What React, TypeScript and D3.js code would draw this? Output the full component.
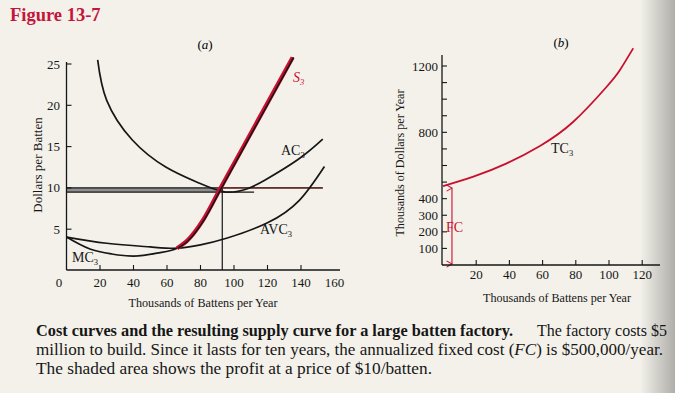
import React from "react";
import * as d3 from "d3";

// ---------- Data ----------
// Panel (a): dollars per batten vs thousands of battens per year
const acCurve: [number, number][] = [
  [18.6, 25.5], [24, 20.6], [39.3, 15.8], [59.5, 12.5], [79, 10.6],
  [95, 9.5], [108, 9.9], [118.6, 10.96], [138, 13.4], [153, 15.9],
];
const avcCurve: [number, number][] = [
  [0, 4.05], [24, 3.3], [50, 2.85], [66, 2.7], [80, 3.1], [95.5, 3.9],
  [119.7, 5.75], [139, 8.5], [154, 12.6],
];
const mcCurve: [number, number][] = [
  [0, 4.05], [14, 2.6], [27, 2.0], [40, 1.75], [54, 2.1], [66, 2.7],
  [72, 3.6], [81.5, 6.1], [92, 10], [101.8, 13.6], [135, 25.8],
];
const supplyStart = 66;
const price = 10;
const acMin = 9.5;
const qStar = 93;
const priceLineEnd = 153;
const acMinLineEnd = 112;
const xTicksA = [20, 40, 60, 80, 100, 120, 140];
const xLabelsA = [0, 20, 40, 60, 80, 100, 120, 140, 160];
const yTicksA = [5, 10, 15, 20, 25];

// Panel (b): thousands of dollars per year
const tcCurve: [number, number][] = [
  [0, 476], [18.3, 533], [38.4, 613], [58.4, 718], [78.5, 864],
  [98.6, 1075], [106.6, 1176], [114.6, 1307],
];
const fcQ = 5.4;
const fcValue = 476;
const xTicksB = [20, 40, 60, 80, 100, 120];
const yTicksB = [100, 200, 300, 400, 500, 600, 700, 800, 900, 1000, 1100, 1200];
const yLabelsB = [100, 200, 300, 400, 800, 1200];

const RED = "#c8102e";
const INK = "#161616";
const SERIF = "'Liberation Serif', 'DejaVu Serif', serif";

export default function App() {
  // Panel (a) scales
  const xa = d3.scaleLinear().domain([0, 160]).range([66.5, 334.5]);
  const ya = d3.scaleLinear().domain([0, 25]).range([270.5, 64]);
  // Panel (b) scales
  const xb = d3.scaleLinear().domain([0, 120]).range([443, 642.2]);
  const yb = d3.scaleLinear().domain([0, 1200]).range([265, 66]);

  const lineA = d3
    .line<[number, number]>()
    .x((d) => xa(d[0]))
    .y((d) => ya(d[1]))
    .curve(d3.curveNatural);
  const lineB = d3
    .line<[number, number]>()
    .x((d) => xb(d[0]))
    .y((d) => yb(d[1]))
    .curve(d3.curveNatural);
  const lineMC = d3
    .line<[number, number]>()
    .x((d) => xa(d[0]))
    .y((d) => ya(d[1]))
    .curve(d3.curveMonotoneX);

  const supply = mcCurve.filter((d) => d[0] >= supplyStart);

  const axisA0 = ya(0) - 0.5;
  const axisB0 = yb(0);

  return (
    <svg
      width={675}
      height={393}
      style={{ position: "fixed", left: 0, top: 0, display: "block" }}
      fontFamily={SERIF}
    >
      <defs>
        <linearGradient id="edge" x1="0" x2="1" y1="0" y2="0">
          <stop offset="0" stopColor="#000" stopOpacity={0} />
          <stop offset="1" stopColor="#000" stopOpacity={0.28} />
        </linearGradient>
        <marker id="arrUp" viewBox="0 0 10 10" refX="5" refY="1" markerWidth="7" markerHeight="7" orient="auto">
          <path d="M1,8 L5,1 L9,8" fill="none" stroke={RED} strokeWidth={1.3} />
        </marker>
      </defs>
      <rect x={0} y={0} width={675} height={393} fill="#f3f1ea" />
      <rect x={640} y={0} width={35} height={393} fill="url(#edge)" />

      {/* Title */}
      <text x={10} y={21} fill="#c4153c" fontSize={18.5} fontWeight="bold">
        Figure 13-7
      </text>

      {/* ---------- Panel (a) ---------- */}
      <text x={205} y={49} fontSize={13} textAnchor="middle">
        (<tspan fontStyle="italic">a</tspan>)
      </text>

      {/* shaded profit band */}
      <rect
        x={xa(0)}
        y={ya(price)}
        width={xa(qStar) - xa(0)}
        height={ya(acMin) - ya(price)}
        fill="#8f8f8f"
      />
      <line x1={xa(0)} x2={xa(priceLineEnd)} y1={ya(price)} y2={ya(price)} stroke={INK} strokeWidth={1.3} />
      <line x1={xa(qStar)} x2={xa(priceLineEnd)} y1={ya(price)} y2={ya(price)} stroke="#6a2a22" strokeWidth={1.3} />
      <line x1={xa(0)} x2={xa(acMinLineEnd)} y1={ya(acMin)} y2={ya(acMin)} stroke={INK} strokeWidth={1.3} />
      <line x1={xa(qStar)} x2={xa(qStar)} y1={ya(price)} y2={axisA0} stroke={INK} strokeWidth={1.2} />

      {/* curves */}
      <path d={lineA(acCurve) || ""} fill="none" stroke={INK} strokeWidth={1.7} />
      <path d={lineA(avcCurve) || ""} fill="none" stroke={INK} strokeWidth={1.7} />
      <path d={lineMC(mcCurve) || ""} fill="none" stroke={INK} strokeWidth={1.7} />
      <path d={lineMC(supply) || ""} fill="none" stroke={RED} strokeWidth={4.2} />
      <path d={lineMC(supply) || ""} fill="none" stroke={INK} strokeWidth={1.5} transform="translate(1,0)" />

      {/* axes (a) */}
      <line x1={xa(0)} x2={xa(0)} y1={62} y2={axisA0} stroke={INK} strokeWidth={1.3} />
      <line x1={xa(0)} x2={340} y1={axisA0} y2={axisA0} stroke={INK} strokeWidth={1.3} />
      {xTicksA.map((t) => (
        <line key={"xta" + t} x1={xa(t)} x2={xa(t)} y1={axisA0} y2={axisA0 - 5} stroke={INK} strokeWidth={1.1} />
      ))}
      {xLabelsA.map((t) => (
        <text key={"xla" + t} x={t === 0 ? 59 : xa(t)} y={287} fontSize={13} textAnchor="middle" fill={INK}>
          {t}
        </text>
      ))}
      {yTicksA.map((t) => (
        <g key={"yta" + t}>
          <line x1={xa(0)} x2={xa(0) + 5} y1={ya(t)} y2={ya(t)} stroke={INK} strokeWidth={1.1} />
          <text x={60} y={ya(t) + 4.5} fontSize={13} textAnchor="end" fill={INK}>
            {t}
          </text>
        </g>
      ))}
      <text x={203} y={307} fontSize={13} textAnchor="middle" fill={INK} textLength={149} lengthAdjust="spacingAndGlyphs">
        Thousands of Battens per Year
      </text>
      <text
        transform={`translate(42,165) rotate(-90)`}
        fontSize={13}
        textAnchor="middle"
        fill={INK}
      >
        Dollars per Batten
      </text>

      {/* labels (a) */}
      <text x={293} y={82} fontSize={14} fill={RED} fontStyle="italic">
        S<tspan fontSize={8.5} dy={3}>3</tspan>
      </text>
      <text x={281} y={155} fontSize={14} fill={INK}>
        AC<tspan fontSize={8.5} dy={3}>3</tspan>
      </text>
      <text x={260} y={234} fontSize={14} fill={INK}>
        AVC<tspan fontSize={8.5} dy={3}>3</tspan>
      </text>
      <text x={72} y={262} fontSize={14} fill={INK}>
        MC<tspan fontSize={8.5} dy={3}>3</tspan>
      </text>

      {/* ---------- Panel (b) ---------- */}
      <text x={561} y={47} fontSize={13} textAnchor="middle">
        (<tspan fontStyle="italic">b</tspan>)
      </text>

      <path d={lineB(tcCurve) || ""} fill="none" stroke={RED} strokeWidth={1.8} />

      {/* FC arrow */}
      <line
        x1={xb(fcQ)}
        x2={xb(fcQ)}
        y1={yb(fcValue) + 2}
        y2={axisB0 - 1}
        stroke={RED}
        strokeWidth={1.1}
        markerStart="url(#arrUp)"
        markerEnd="url(#arrUp)"
      />
      <text x={446} y={232} fontSize={14} fill={RED}>
        FC
      </text>

      {/* axes (b) */}
      <line x1={xb(0) - 1} x2={xb(0) - 1} y1={55} y2={axisB0} stroke={INK} strokeWidth={1.3} />
      <line x1={xb(0) - 1} x2={660} y1={axisB0} y2={axisB0} stroke={INK} strokeWidth={1.3} />
      {xTicksB.map((t) => (
        <g key={"xtb" + t}>
          <line x1={xb(t)} x2={xb(t)} y1={axisB0} y2={axisB0 - 5} stroke={INK} strokeWidth={1.1} />
          <text x={xb(t)} y={279} fontSize={13} textAnchor="middle" fill={INK}>
            {t}
          </text>
        </g>
      ))}
      {yTicksB.map((t) => (
        <line key={"ytb" + t} x1={xb(0) - 1} x2={xb(0) + 4} y1={yb(t)} y2={yb(t)} stroke={INK} strokeWidth={1.1} />
      ))}
      {yLabelsB.map((t) => (
        <text key={"ylb" + t} x={438} y={yb(t) + 4.5} fontSize={13} textAnchor="end" fill={INK}>
          {t}
        </text>
      ))}
      <text x={557} y={302} fontSize={13} textAnchor="middle" fill={INK} textLength={148} lengthAdjust="spacingAndGlyphs">
        Thousands of Battens per Year
      </text>
      <text
        transform={`translate(404,163) rotate(-90)`}
        fontSize={13}
        textAnchor="middle"
        fill={INK}
        textLength={147}
        lengthAdjust="spacingAndGlyphs"
      >
        Thousands of Dollars per Year
      </text>
      <text x={551} y={153} fontSize={14} fill={INK}>
        TC<tspan fontSize={8.5} dy={3}>3</tspan>
      </text>

      {/* ---------- Caption ---------- */}
      <text x={36} y={336} fontSize={16} fill={INK} fontWeight="bold" textLength={477} lengthAdjust="spacingAndGlyphs">
        Cost curves and the resulting supply curve for a large batten factory.
      </text>
      <text x={537} y={336} fontSize={16} fill={INK} textLength={130} lengthAdjust="spacingAndGlyphs">
        The factory costs $5
      </text>
      <text x={36} y={355} fontSize={16.5} fill={INK} textLength={627} lengthAdjust="spacingAndGlyphs">
        million to build. Since it lasts for ten years, the annualized fixed cost (<tspan fontStyle="italic">FC</tspan>) is $500,000/year.
      </text>
      <text x={36} y={374} fontSize={16.5} fill={INK} textLength={396} lengthAdjust="spacingAndGlyphs">
        The shaded area shows the profit at a price of $10/batten.
      </text>
    </svg>
  );
}
